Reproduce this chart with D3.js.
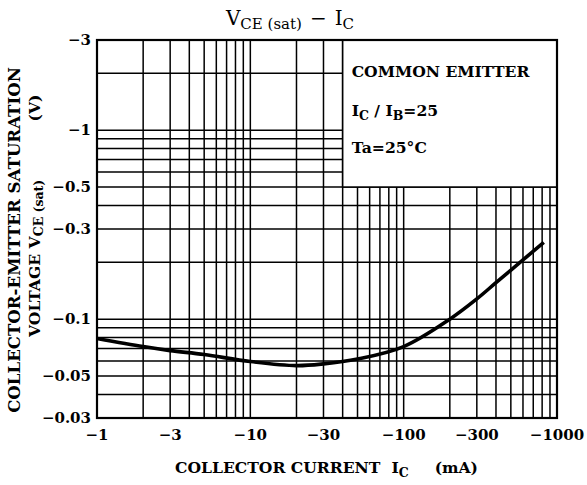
<!DOCTYPE html>
<html>
<head>
<meta charset="utf-8">
<script src="https://cdn.jsdelivr.net/npm/d3@7"></script>
<style>
  body { margin: 0; background: #fff; }
  text { font-family: "DejaVu Serif", serif; font-weight: bold; fill: #000; }
</style>
</head>
<body>
<script>
// collector current (mA) and saturation voltage (V)
var current = [-1, -2, -3, -5, -10, -20, -30, -50, -100, -200, -300, -400, -600, -820];
var vceSat = [-0.079, -0.0716, -0.0682, -0.065, -0.0597, -0.0568, -0.058, -0.0615, -0.0716, -0.1, -0.128, -0.156, -0.206, -0.255];

var xTicks = [-1, -3, -10, -30, -100, -300, -1000];
var xTickLabels = ["\u22121", "\u22123", "\u221210", "\u221230", "\u2212100", "\u2212300", "\u22121000"];
var yTicks = [-3, -1, -0.5, -0.3, -0.1, -0.05, -0.03];
var yTickLabels = ["\u22123", "\u22121", "\u22120.5", "\u22120.3", "\u22120.1", "\u22120.05", "\u22120.03"];

var margin = { top: 40, right: 30, bottom: 67, left: 97 };
var width = 587 - margin.left - margin.right;
var height = 485 - margin.top - margin.bottom;

var svg = d3.select('body').append('svg')
    .attr('width', 587)
    .attr('height', 485);

var g = svg.append('g')
    .attr('transform', 'translate(' + margin.left + ',' + margin.top + ')');

var x = d3.scaleLog().domain([-1, -1000]).range([0, width]);
var y = d3.scaleLog().domain([-0.03, -3]).range([height, 0]);

// log grid: 1..9 in every decade
var xGrid = [];
[-1, -10, -100].forEach(function (d) {
    for (var k = 1; k <= 9; k++) xGrid.push(d * k);
});
xGrid.push(-1000);
var yGrid = [];
[-0.01, -0.1, -1].forEach(function (d) {
    for (var k = 1; k <= 9; k++) {
        var v = d * k;
        if (v <= -0.03 && v >= -3) yGrid.push(v);
    }
});

g.selectAll('.vgrid').data(xGrid).enter().append('line')
    .attr('x1', function (d) { return x(d); })
    .attr('x2', function (d) { return x(d); })
    .attr('y1', 0).attr('y2', height)
    .style('stroke', '#000').attr('stroke-width', 1.5);

g.selectAll('.hgrid').data(yGrid).enter().append('line')
    .attr('y1', function (d) { return y(d); })
    .attr('y2', function (d) { return y(d); })
    .attr('x1', 0).attr('x2', width)
    .style('stroke', '#000').attr('stroke-width', 1.5);

// legend box sits over the grid in the upper right
g.append('rect')
    .attr('x', x(-40)).attr('y', y(-3))
    .attr('width', x(-1000) - x(-40))
    .attr('height', y(-0.5) - y(-3))
    .style('fill', '#fff').style('stroke', '#000').attr('stroke-width', 1.6);

// frame
g.append('rect')
    .attr('x', 0).attr('y', 0)
    .attr('width', width).attr('height', height)
    .style('fill', 'none').style('stroke', '#000').attr('stroke-width', 2.2);

// curve
var line = d3.line()
    .x(function (d) { return x(d[0]); })
    .y(function (d) { return y(d[1]); })
    .curve(d3.curveCatmullRom.alpha(0.5));

g.append('path')
    .datum(d3.zip(current, vceSat))
    .attr('d', line)
    .style('fill', 'none').style('stroke', '#000')
    .attr('stroke-width', 3.6).attr('stroke-linejoin', 'round');

// tick labels
g.selectAll('.xlab').data(xTicks).enter().append('text')
    .attr('x', function (d) { return x(d); })
    .attr('y', height + 22)
    .attr('text-anchor', 'middle')
    .style('font-size', '15px')
    .text(function (d, i) { return xTickLabels[i]; });

g.selectAll('.ylab').data(yTicks).enter().append('text')
    .attr('x', -6)
    .attr('y', function (d) { return y(d) + 5; })
    .attr('text-anchor', 'end')
    .style('font-size', '15px')
    .text(function (d, i) { return yTickLabels[i]; });

// legend text
var lx = x(-40) + 9;
g.append('text').attr('x', lx).attr('y', 37).style('font-size', '15.6px').text('COMMON EMITTER');
var t2 = g.append('text').attr('x', lx).attr('y', 76).style('font-size', '15.6px');
t2.append('tspan').text('I');
t2.append('tspan').attr('dy', 4).style('font-size', '12.5px').text('C');
t2.append('tspan').attr('dy', -4).text(' / I');
t2.append('tspan').attr('dy', 4).style('font-size', '12.5px').text('B');
t2.append('tspan').attr('dy', -4).text('=25');
g.append('text').attr('x', lx).attr('y', 113).style('font-size', '15.6px').text('Ta=25\u00b0C');

// title
var title = svg.append('text').attr('x', 290).attr('y', 25)
    .attr('text-anchor', 'middle').style('font-size', '20px').style('font-weight', 'normal');
title.append('tspan').text('V');
title.append('tspan').attr('dy', 4).style('font-size', '15px').text('CE (sat)');
title.append('tspan').attr('dy', -4).attr('dx', 8).text('\u2212');
title.append('tspan').attr('dx', 8).text('I');
title.append('tspan').attr('dy', 4).style('font-size', '15px').text('C');

// x axis title
var xt = svg.append('text').attr('x', 175).attr('y', 473).style('font-size', '15.6px');
xt.append('tspan').text('COLLECTOR CURRENT');
xt.append('tspan').attr('dx', 11).text('I');
xt.append('tspan').attr('dy', 4).style('font-size', '12.5px').text('C');
svg.append('text').attr('x', 478).attr('y', 473).attr('text-anchor', 'end')
    .style('font-size', '15.6px').text('(mA)');

// y axis title, two rotated lines
svg.append('text')
    .attr('transform', 'translate(20,240) rotate(-90)')
    .attr('text-anchor', 'middle')
    .style('font-size', '16.6px')
    .text('COLLECTOR-EMITTER SATURATION');
var yt = svg.append('text')
    .attr('transform', 'translate(40,337) rotate(-90)')
    .style('font-size', '15.6px');
yt.append('tspan').text('VOLTAGE  V');
yt.append('tspan').attr('dy', 3).style('font-size', '12.5px').text('CE (sat)');
svg.append('text')
    .attr('transform', 'translate(40,108) rotate(-90)')
    .attr('text-anchor', 'middle')
    .style('font-size', '15.6px')
    .text('(V)');
</script>
</body>
</html>
